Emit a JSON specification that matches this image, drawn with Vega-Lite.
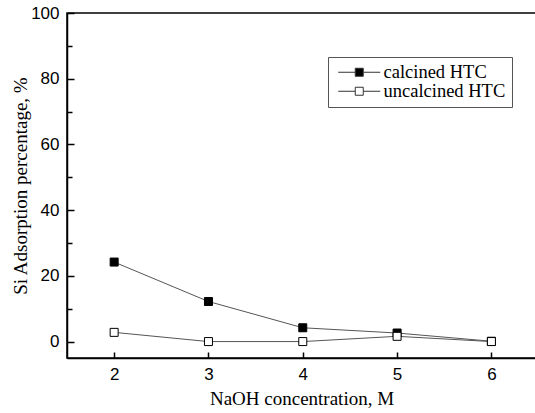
{
  "$schema": "https://vega.github.io/schema/vega-lite/v6.json",
  "width": 469,
  "height": 345,
  "autosize": {"type": "none"},
  "padding": {"left": 67, "top": 13, "right": 0, "bottom": 55},
  "background": "white",
  "config": {
    "view": {"stroke": "#000", "strokeWidth": 1.5},
    "axis": {
      "domainColor": "#000",
      "domainWidth": 1.5,
      "tickColor": "#000",
      "tickWidth": 1.5,
      "grid": false,
      "labelFont": "Liberation Sans",
      "labelFontSize": 17,
      "labelColor": "#000",
      "titleFont": "Times New Roman, Liberation Serif, serif",
      "titleFontSize": 19,
      "titleFontWeight": "normal",
      "titleColor": "#000"
    }
  },
  "data": {
    "values": [
      {"naoh": 2, "pct": 24.2, "series": "calcined HTC"},
      {"naoh": 3, "pct": 12.2, "series": "calcined HTC"},
      {"naoh": 4, "pct": 4.2, "series": "calcined HTC"},
      {"naoh": 5, "pct": 2.6, "series": "calcined HTC"},
      {"naoh": 6, "pct": 0.1, "series": "calcined HTC"},
      {"naoh": 2, "pct": 2.8, "series": "uncalcined HTC"},
      {"naoh": 3, "pct": 0.0, "series": "uncalcined HTC"},
      {"naoh": 4, "pct": 0.0, "series": "uncalcined HTC"},
      {"naoh": 5, "pct": 1.6, "series": "uncalcined HTC"},
      {"naoh": 6, "pct": 0.0, "series": "uncalcined HTC"}
    ]
  },
  "encoding": {
    "x": {
      "field": "naoh",
      "type": "quantitative",
      "scale": {"domain": [1.5, 6.473], "nice": false, "zero": false},
      "axis": {
        "title": "NaOH concentration, M",
        "values": [2, 2.5, 3, 3.5, 4, 4.5, 5, 5.5, 6],
        "format": "d",
        "labelExpr": "datum.value % 1 === 0 ? datum.label : ''",
        "tickSize": {"condition": {"test": "datum.value % 1 === 0", "value": -6}, "value": -4},
        "labelPadding": 14,
        "titlePadding": 7
      }
    },
    "y": {
      "field": "pct",
      "type": "quantitative",
      "scale": {"domain": [-5, 100], "nice": false, "zero": false},
      "axis": {
        "title": "Si Adsorption percentage, %",
        "values": [0, 10, 20, 30, 40, 50, 60, 70, 80, 90, 100],
        "labelExpr": "datum.value % 20 === 0 ? datum.label : ''",
        "tickSize": {"condition": {"test": "datum.value % 20 === 0", "value": -7}, "value": -5},
        "labelPadding": 15,
        "titlePadding": 0
      }
    }
  },
  "layer": [
    {
      "mark": {"type": "line", "color": "#555", "strokeWidth": 1},
      "encoding": {"detail": {"field": "series"}}
    },
    {
      "mark": {"type": "point", "shape": "square", "size": 64, "filled": true, "stroke": "#000", "strokeWidth": 1, "opacity": 1},
      "encoding": {
        "fill": {
          "field": "series",
          "type": "nominal",
          "scale": {"domain": ["calcined HTC", "uncalcined HTC"], "range": ["#000", "#fff"]},
          "legend": {
            "title": null,
            "orient": "none",
            "legendX": 261,
            "legendY": 44,
            "strokeColor": "#555",
            "padding": 6,
            "symbolType": "M-1,0H2.4M4,0H7.4M2.4,-0.8H4V0.8H2.4Z",
            "symbolSize": 100,
            "symbolStrokeColor": "#333",
            "symbolStrokeWidth": 1,
            "labelFont": "Times New Roman, Liberation Serif, serif",
            "labelFontSize": 18.5,
            "labelColor": "#000",
            "labelOffset": 31,
            "rowPadding": -1
          }
        }
      }
    }
  ]
}
